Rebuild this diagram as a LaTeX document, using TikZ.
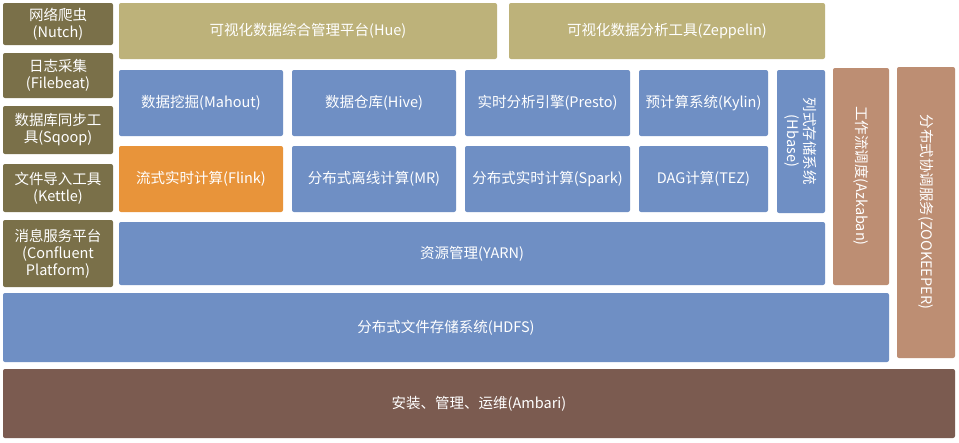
\documentclass[tikz,border=0pt]{standalone}
\usepackage{fontspec}
\setmainfont{Noto Sans CJK SC}
\begin{document}
\begin{tikzpicture}[x=1pt,y=-1pt,
  bx/.style={rounded corners=2pt,text=white,align=center,inner sep=0pt,font=\fontsize{14.5}{17}\selectfont},
  ol/.style={bx,fill=olive0},
  gd/.style={bx,fill=gold0},
  bl/.style={bx,fill=blue0},
  org/.style={bx,fill=orange0},
  tn/.style={bx,fill=tan0},
  br/.style={bx,fill=brown0}]
\definecolor{olive0}{HTML}{7A7049}
\definecolor{gold0}{HTML}{BDB27A}
\definecolor{blue0}{HTML}{6F8FC4}
\definecolor{orange0}{HTML}{E8943A}
\definecolor{tan0}{HTML}{BD8E73}
\definecolor{brown0}{HTML}{7B5B50}
\useasboundingbox[fill=white] (0,0) rectangle (959,442);
\newcommand\bxx[7]{\path[#1] (#3,#4) rectangle (#5,#6); \node[#1,fill=none] (#2) at ({(#3+#5)/2},{(#4+#6)/2}) {#7};}
\bxx{ol}{nutch}{3}{3}{113}{45}{网络爬虫\\(Nutch)}
\bxx{ol}{filebeat}{3}{53}{113}{98}{日志采集\\(Filebeat)}
\bxx{ol}{sqoop}{3}{106}{113}{154}{数据库同步工\\具(Sqoop)}
\bxx{ol}{kettle}{3}{164}{113}{212}{文件导入工具\\(Kettle)}
\bxx{ol}{conf}{3}{220}{113}{287}{消息服务平台\\(Confluent\\Platform)}
\bxx{gd}{hue}{119}{3}{497}{59}{可视化数据综合管理平台(Hue)}
\bxx{gd}{zep}{509}{3}{825}{59}{可视化数据分析工具(Zeppelin)}
\bxx{bl}{mahout}{119}{70}{283}{136}{数据挖掘(Mahout)}
\bxx{bl}{hive}{292}{70}{456}{136}{数据仓库(Hive)}
\bxx{bl}{presto}{465}{70}{630}{136}{实时分析引擎(Presto)}
\bxx{bl}{kylin}{639}{70}{768}{136}{预计算系统(Kylin)}
\bxx{org}{flink}{119}{146}{283}{212}{流式实时计算(Flink)}
\bxx{bl}{mr}{292}{146}{456}{212}{分布式离线计算(MR)}
\bxx{bl}{spark}{465}{146}{630}{212}{分布式实时计算(Spark)}
\bxx{bl}{tez}{639}{146}{768}{212}{DAG计算(TEZ)}
\path[bl] (777,70) rectangle (825,213);
\node[bl,fill=none,rotate=-90] (hbase) at (801,141) {列式存储系统\\(Hbase)};
\bxx{bl}{yarn}{119}{222}{825}{285}{资源管理(YARN)}
\path[tn] (833,68) rectangle (889,285);
\node[tn,fill=none,rotate=-90] (azk) at (861,176) {工作流调度(Azkaban)};
\path[tn] (897,67) rectangle (955,358);
\node[tn,fill=none,rotate=-90] (zk) at (926,212) {分布式协调服务(ZOOKEEPER)};
\bxx{bl}{hdfs}{3}{293}{889}{362}{分布式文件存储系统(HDFS)}
\bxx{br}{ambari}{3}{369}{955}{438}{安装、管理、运维(Ambari)}
\end{tikzpicture}
\end{document}
